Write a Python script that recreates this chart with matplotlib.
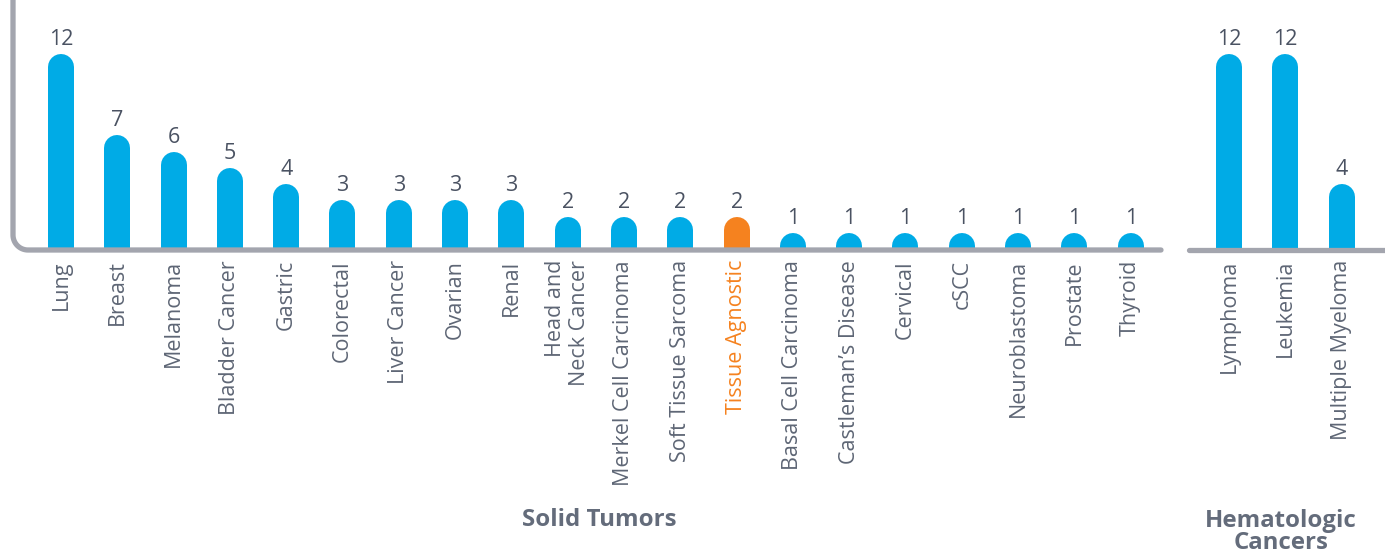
import numpy as np
import matplotlib
matplotlib.use("Agg")
import matplotlib.pyplot as plt
from matplotlib.lines import Line2D

plt.rcParams['font.family'] = ['Open Sans', 'DejaVu Sans']

# data
solid_labels = ["Lung", "Breast", "Melanoma", "Bladder Cancer", "Gastric", "Colorectal",
                "Liver Cancer", "Ovarian", "Renal", "Head and\nNeck Cancer",
                "Merkel Cell Carcinoma", "Soft Tissue Sarcoma", "Tissue Agnostic",
                "Basal Cell Carcinoma", "Castleman\u2019s Disease", "Cervical", "cSCC",
                "Neuroblastoma", "Prostate", "Thyroid"]
solid_values = [12, 7, 6, 5, 4, 3, 3, 3, 3, 2, 2, 2, 2, 1, 1, 1, 1, 1, 1, 1]
heme_labels = ["Lymphoma", "Leukemia", "Multiple Myeloma"]
heme_values = [12, 12, 4]
highlight = "Tissue Agnostic"

BLUE = "#00abe6"
ORANGE = "#f5821f"
AXIS_GRAY = "#a3a5ae"
TEXT_DARK = "#4a5262"
TEXT_GRAY = "#5e6675"
GROUP_GRAY = "#646c7b"

W, H = 1385, 557
fig = plt.figure(figsize=(W / 100, H / 100), dpi=100)

px_per_unit = 16.25
base_y = 249
bar_px = 26
bar_lw = bar_px * 0.72
r_units = (bar_px / 2) / px_per_unit
step = 56.3


def make_axes(x0, x1, first_center):
    ax = fig.add_axes([x0 / W, 1 - base_y / H, (x1 - x0) / W, base_y / H])
    ax.set_xlim((x0 - first_center) / step, (x1 - first_center) / step)
    ax.set_ylim(0, base_y / px_per_unit)
    for s in ax.spines.values():
        s.set_visible(False)
    ax.set_yticks([])
    ax.patch.set_alpha(0)
    return ax


def draw_bars(ax, labels, values):
    xs = np.arange(len(values))
    for x, v, lab in zip(xs, values, labels):
        c = ORANGE if lab == highlight else BLUE
        ax.plot([x, x], [0, v - r_units], color=c, lw=bar_lw,
                solid_capstyle='round', clip_on=True, zorder=2)
        ax.text(x, v + 0.24, str(v), ha='center', va='bottom',
                fontsize=15.5, color=TEXT_DARK)
    ax.set_xticks(xs)
    ax.set_xticklabels(labels, rotation=90, fontsize=15.5, color=TEXT_GRAY,
                       ha='center', va='top', multialignment='right')
    ax.tick_params(axis='x', length=0, pad=8)
    for t in ax.get_xticklabels():
        if t.get_text() == highlight:
            t.set_color(ORANGE)


ax1 = make_axes(13, 1163, 61)
draw_bars(ax1, solid_labels, solid_values)
ax2 = make_axes(1187, 1385, 1229)
draw_bars(ax2, heme_labels, heme_values)


def fig_xy(pts):
    pts = np.asarray(pts, dtype=float)
    return pts[:, 0] / W, 1 - pts[:, 1] / H


# left axis line with rounded corner
rad = 15
t = np.linspace(0, np.pi / 2, 20)
arc = np.column_stack([13 + rad - rad * np.cos(t), 250 - rad + rad * np.sin(t)])
path = np.vstack([[[13, -5]], arc, [[1161, 250]]])
xs, ys = fig_xy(path)
fig.add_artist(Line2D(xs, ys, transform=fig.transFigure, color=AXIS_GRAY,
                      lw=3.8, solid_capstyle='round', solid_joinstyle='round', zorder=3))
xs, ys = fig_xy([[1189, 250], [1390, 250]])
fig.add_artist(Line2D(xs, ys, transform=fig.transFigure, color=AXIS_GRAY,
                      lw=3.8, solid_capstyle='round', zorder=3))

# group labels
fig.text(599 / W, 1 - 520 / H, "Solid Tumors", ha='center', va='center',
         fontsize=17.3, fontweight='bold', color=GROUP_GRAY)
fig.text(1281 / W, 1 - 532 / H, "Hematologic\nCancers", ha='center', va='center',
         fontsize=17.3, fontweight='bold', color=GROUP_GRAY, linespacing=0.92)

fig.savefig("out.png", dpi=100)
